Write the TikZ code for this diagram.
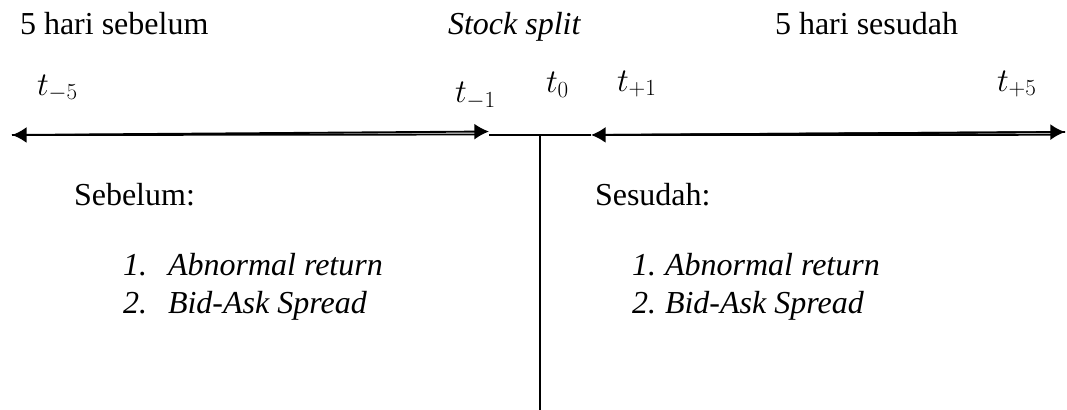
\documentclass[tikz,border=0pt]{standalone}
\usepackage{fontspec}
\setmainfont{Liberation Serif}
\usetikzlibrary{arrows.meta}
\begin{document}
\begin{tikzpicture}[x=0.75pt,y=-0.75pt,
  txt/.style={anchor=base west,inner sep=0pt,outer sep=0pt,font=\fontsize{24}{28}\selectfont},
  tlab/.style={anchor=base west,inner sep=0pt,outer sep=0pt,font=\fontsize{24}{28}\selectfont},
  axis/.style={line width=1.4pt},
  thin/.style={line width=1pt},
  tip/.style={-{Latex[length=11pt,width=12pt]}}]
\useasboundingbox (0,0) rectangle (1067,410);
% headers
\node[txt] (hsebelum) at (20,35) {5 hari sebelum};
\node[txt] (hsplit) at (448,35) {\itshape Stock split};
\node[txt] (hsesudah) at (775,35) {5 hari sesudah};
% t labels
\node[tlab] (tm5) at (37,95) {$t_{-5}$};
\node[tlab] (tm1) at (455,103) {$t_{-1}$};
\node[tlab] (t0) at (546,93) {$t_{0}$};
\node[tlab] (tp1) at (617,91) {$t_{+1}$};
\node[tlab] (tp5) at (997,91) {$t_{+5}$};
% coordinates
\coordinate (a1) at (12,135);
\coordinate (a2) at (489,131.5);
\coordinate (a2b) at (478,134.5);
\coordinate (m1) at (489,135);
\coordinate (m2) at (591,135);
\coordinate (v1) at (540,135);
\coordinate (v2) at (540,410);
\coordinate (b1) at (591,135);
\coordinate (b2) at (1065,132);
\coordinate (b1a) at (603,135);
\coordinate (b2b) at (1055,134.8);
% left arrow (double-ish line)
\draw[axis,tip] (a2b) -- (a1);
\draw[axis,tip] (a1) -- (a2);
% middle line and vertical
\draw[thin] (m1) -- (m2);
\draw[thin] (v1) -- (v2);
% right arrow (double-ish line)
\draw[axis,tip] (b2) -- (b1);
\draw[axis,tip] (b1a) -- (b2);
\draw[axis] (b1a) -- (b2b);
% lower texts
\node[txt] (sebelum) at (74,205) {Sebelum:};
\node[txt] (sesudah) at (595,205) {Sesudah:};
\node[txt] (l1n) at (123,275) {\itshape 1.};
\node[txt] (l1t) at (168,275) {\itshape Abnormal return};
\node[txt] (l2n) at (123,313) {\itshape 2.};
\node[txt] (l2t) at (168,313) {\itshape Bid-Ask Spread};
\node[txt] (r1n) at (632,275) {\itshape 1.};
\node[txt] (r1t) at (665,275) {\itshape Abnormal return};
\node[txt] (r2n) at (632,313) {\itshape 2.};
\node[txt] (r2t) at (665,313) {\itshape Bid-Ask Spread};
\end{tikzpicture}
\end{document}
